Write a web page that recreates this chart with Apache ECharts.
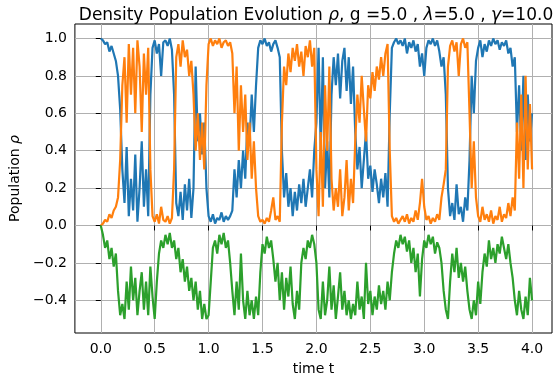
<!DOCTYPE html>
<html>
<head>
<meta charset="utf-8">
<script src="https://cdn.jsdelivr.net/npm/echarts@6/dist/echarts.min.js"></script>
<style>
  html, body { margin: 0; padding: 0; background: #fff; }
  #chart { width: 554px; height: 383px; }
</style>
</head>
<body>
<div id="chart"></div>
<script>
// sampled every 0.02 in t, from 0.0 to 4.0
const dt = 0.02;

const rhoBlue = [
  1.00, 0.99, 0.97, 0.98, 0.93, 0.96, 0.92, 0.88, 0.80, 0.62,
  0.30, 0.12, 0.42, 0.05, 0.25, 0.08, 0.38, 0.02, 0.20, 0.45,
  0.10, 0.30, 0.05, 0.70, 0.95, 0.99, 0.92, 0.97, 0.80, 0.98,
  0.99, 0.96, 1.00, 0.94, 0.70, 0.12, 0.05, 0.18, 0.03, 0.22,
  0.08, 0.25, 0.04, 0.20, 0.85, 0.45, 0.60, 0.38, 0.55, 0.20,
  0.05, 0.02, 0.06, 0.01, 0.04, 0.03, 0.07, 0.02, 0.05, 0.03,
  0.05, 0.08, 0.30, 0.15, 0.35, 0.20, 0.40, 0.25, 0.55, 0.45,
  0.70, 0.50, 0.75, 0.95, 0.99, 0.97, 1.00, 0.96, 0.98, 0.93,
  0.97, 0.99, 0.95, 0.90, 0.40, 0.15, 0.28, 0.10, 0.20, 0.05,
  0.18, 0.08, 0.22, 0.12, 0.25, 0.10, 0.20, 0.30, 0.15, 0.40,
  0.55, 0.95, 0.40, 0.90, 0.20, 0.45, 0.15, 0.70, 0.90, 0.75,
  0.92, 0.68, 0.88, 0.95, 0.72, 0.90, 0.65, 0.85, 0.50, 0.30,
  0.42, 0.20, 0.35, 0.50, 0.25, 0.32, 0.18, 0.30, 0.22, 0.12,
  0.25, 0.15, 0.28, 0.10, 0.60, 0.95, 0.98, 1.00, 0.97, 0.99,
  0.96, 1.00, 0.92, 0.98, 0.95, 0.99, 0.93, 0.97, 0.85, 0.92,
  0.80, 0.95, 0.99, 0.97, 1.00, 0.96, 0.99, 0.93, 0.85, 0.90,
  0.70, 0.20, 0.05, 0.12, 0.03, 0.22, 0.06, 0.10, 0.02, 0.15,
  0.08, 0.35, 0.80, 0.60, 0.88, 0.95, 0.99, 0.90, 0.97, 0.93,
  0.99, 0.96, 1.00, 0.97, 0.99, 0.94, 0.98, 0.96, 0.99, 0.92,
  0.95, 0.85, 0.90, 0.50, 0.75, 0.40, 0.80, 0.35, 0.70, 0.45,
  0.60
];

const rhoOrange = [
  0.00, 0.01, 0.03, 0.02, 0.06, 0.04, 0.08, 0.10, 0.15, 0.35,
  0.75, 0.90, 0.55, 0.97, 0.70, 0.95, 0.60, 0.99, 0.85, 0.50,
  0.92, 0.70, 0.95, 0.30, 0.05, 0.02, 0.06, 0.01, 0.10, 0.03,
  0.02, 0.05, 0.01, 0.04, 0.30, 0.90, 0.97, 0.85, 0.99, 0.90,
  0.94, 0.80, 0.88, 0.70, 0.40, 0.60, 0.35, 0.55, 0.30, 0.75,
  0.97, 1.00, 0.96, 0.99, 0.97, 1.00, 0.95, 0.98, 0.99, 0.96,
  0.98, 0.92, 0.60, 0.85, 0.40, 0.75, 0.50, 0.70, 0.35, 0.55,
  0.25, 0.45, 0.20, 0.05, 0.02, 0.03, 0.01, 0.04, 0.02, 0.08,
  0.15, 0.03, 0.05, 0.02, 0.55, 0.85, 0.75, 0.92, 0.82, 0.95,
  0.88, 0.97, 0.85, 0.93, 0.80, 0.96, 0.90, 0.99, 0.85, 0.95,
  0.30, 0.05, 0.50, 0.10, 0.75, 0.40, 0.85, 0.25, 0.08, 0.20,
  0.10, 0.30, 0.05, 0.15, 0.35, 0.08, 0.25, 0.12, 0.45, 0.70,
  0.55, 0.80, 0.62, 0.45, 0.75, 0.68, 0.82, 0.72, 0.85, 0.78,
  0.90, 0.80, 0.92, 0.97, 0.40, 0.05, 0.02, 0.04, 0.01, 0.03,
  0.05, 0.02, 0.06, 0.01, 0.04, 0.02, 0.08, 0.03, 0.12, 0.25,
  0.10, 0.03, 0.05, 0.01, 0.04, 0.02, 0.06, 0.03, 0.15, 0.22,
  0.30, 0.85, 0.96, 0.99, 0.93, 0.98, 0.80, 0.97, 1.00, 0.95,
  0.98, 0.60, 0.20, 0.45, 0.15, 0.05, 0.02, 0.10, 0.03, 0.06,
  0.02, 0.08, 0.01, 0.05, 0.03, 0.10, 0.02, 0.06, 0.04, 0.12,
  0.05, 0.15, 0.08, 0.55, 0.25, 0.70, 0.20, 0.80, 0.30, 0.65,
  0.30
];

const rhoGreen = [
  0.00, -0.05, -0.12, -0.08, -0.18, -0.12, -0.22, -0.15, -0.35, -0.48,
  -0.42, -0.50, -0.30, -0.45, -0.22, -0.40, -0.28, -0.48, -0.35, -0.25,
  -0.45, -0.30, -0.48, -0.22, -0.38, -0.50, -0.30, -0.15, -0.08, -0.12,
  -0.05, -0.10, -0.04, -0.12, -0.08, -0.18, -0.12, -0.25, -0.18, -0.30,
  -0.22, -0.35, -0.28, -0.40, -0.30, -0.45, -0.35, -0.50, -0.42, -0.50,
  -0.48, -0.30, -0.12, -0.08, -0.15, -0.05, -0.10, -0.04, -0.12, -0.08,
  -0.20, -0.35, -0.48, -0.30, -0.45, -0.15, -0.40, -0.50, -0.35, -0.48,
  -0.40, -0.50, -0.38, -0.48, -0.25, -0.10, -0.15, -0.06, -0.12, -0.08,
  -0.18, -0.30, -0.20, -0.40, -0.25, -0.45, -0.28, -0.38, -0.22, -0.42,
  -0.50, -0.35, -0.45, -0.20, -0.12, -0.18, -0.08, -0.12, -0.05, -0.10,
  -0.20, -0.45, -0.50, -0.30, -0.48, -0.40, -0.22, -0.45, -0.32, -0.50,
  -0.38, -0.25, -0.45, -0.35, -0.48, -0.40, -0.50, -0.42, -0.48, -0.30,
  -0.45, -0.38, -0.50, -0.20, -0.42, -0.35, -0.48, -0.38, -0.45, -0.32,
  -0.42, -0.35, -0.45, -0.30, -0.40, -0.25, -0.15, -0.08, -0.12, -0.05,
  -0.10, -0.06, -0.14, -0.08, -0.20, -0.12, -0.25, -0.15, -0.38, -0.18,
  -0.08, -0.12, -0.05, -0.10, -0.06, -0.15, -0.09, -0.12, -0.20, -0.35,
  -0.45, -0.50, -0.30, -0.15, -0.25, -0.12, -0.28, -0.20, -0.30, -0.22,
  -0.35, -0.45, -0.50, -0.40, -0.48, -0.30, -0.42, -0.25, -0.15, -0.22,
  -0.08, -0.18, -0.12, -0.20, -0.10, -0.15, -0.06, -0.12, -0.18, -0.10,
  -0.20, -0.28, -0.40, -0.48, -0.35, -0.45, -0.50, -0.38, -0.48, -0.28,
  -0.40
];

const xTicks = [0, 0.5, 1, 1.5, 2, 2.5, 3, 3.5, 4];
const yTicks = [-0.4, -0.2, 0, 0.2, 0.4, 0.6, 0.8, 1.0];

const toPairs = (arr) => arr.map((v, i) => [+(i * dt).toFixed(2), v]);
// matplotlib style labels use a real minus sign
const fmt = (v) => v.toFixed(1).replace('-', '\u2212');

const font = 'DejaVu Sans';
const chart = echarts.init(document.getElementById('chart'), null, { renderer: 'canvas' });

chart.setOption({
  animation: false,
  backgroundColor: '#fff',
  title: {
    text: '{n|Density Population Evolution }{i|ρ}{n|, g =5.0 , }{i|λ}{n|=5.0 , }{i|γ}{n|=10.0}',
    left: 311,
    textAlign: 'center',
    top: 2,
    textStyle: {
      fontWeight: 'normal',
      rich: {
        n: { fontFamily: font, fontSize: 17, fontWeight: 'normal', color: '#000' },
        i: { fontFamily: font, fontSize: 17, fontWeight: 'normal', fontStyle: 'italic', color: '#000' },
      },
    },
  },
  grid: {
    left: 74,
    right: 2,
    top: 24,
    bottom: 50,
    show: true,
    borderColor: '#000',
    borderWidth: 1,
    backgroundColor: 'transparent',
  },
  xAxis: {
    type: 'value',
    min: -0.24,
    max: 4.185,
    name: 'time t',
    nameLocation: 'middle',
    nameGap: 29,
    nameTextStyle: { fontFamily: font, fontSize: 14, color: '#000' },
    axisLine: { show: false },
    axisTick: { show: true, length: 5, customValues: xTicks, lineStyle: { color: '#000' } },
    axisLabel: {
      customValues: xTicks,
      margin: 9,
      fontFamily: font,
      fontSize: 14,
      color: '#000',
      formatter: fmt,
    },
    splitLine: { show: true, lineStyle: { color: '#b0b0b0', width: 1 } },
  },
  yAxis: {
    type: 'value',
    min: -0.575,
    max: 1.0775,
    name: '{n|Population }{i|ρ}',
    nameLocation: 'middle',
    nameGap: 50,
    nameTextStyle: {
      rich: {
        n: { fontFamily: font, fontSize: 14, color: '#000' },
        i: { fontFamily: font, fontSize: 14, fontStyle: 'italic', color: '#000' },
      },
    },
    axisLine: { show: false },
    axisTick: { show: true, length: 5, customValues: yTicks, lineStyle: { color: '#000' } },
    axisLabel: {
      customValues: yTicks,
      margin: 8,
      fontFamily: font,
      fontSize: 14,
      color: '#000',
      formatter: fmt,
    },
    splitLine: { show: true, lineStyle: { color: '#b0b0b0', width: 1 } },
  },
  series: [
    {
      type: 'line',
      data: toPairs(rhoBlue),
      showSymbol: false,
      lineStyle: { color: '#1f77b4', width: 2.2 },
      itemStyle: { color: '#1f77b4' },
    },
    {
      type: 'line',
      data: toPairs(rhoOrange),
      showSymbol: false,
      lineStyle: { color: '#ff7f0e', width: 2.2 },
      itemStyle: { color: '#ff7f0e' },
    },
    {
      type: 'line',
      data: toPairs(rhoGreen),
      showSymbol: false,
      lineStyle: { color: '#2ca02c', width: 2.2 },
      itemStyle: { color: '#2ca02c' },
    },
  ],
});
</script>
</body>
</html>
